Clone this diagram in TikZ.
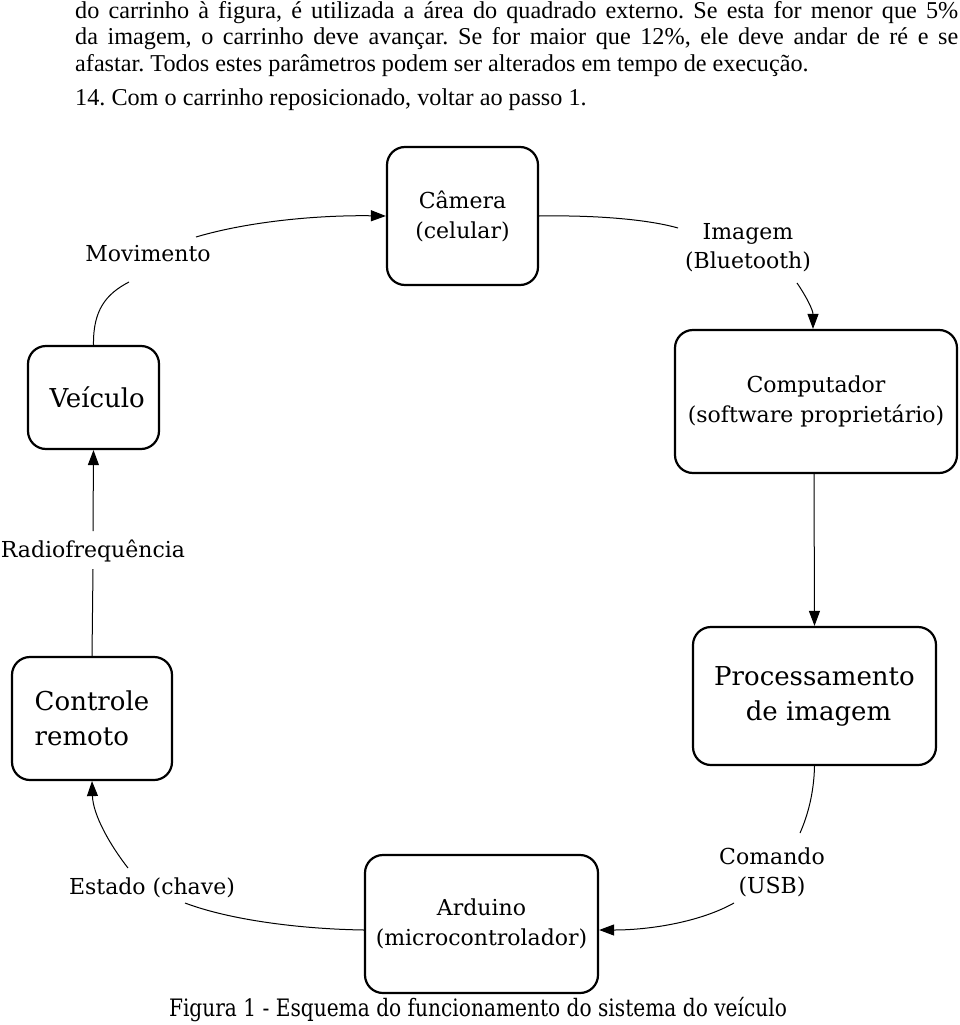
\documentclass[tikz,border=0pt]{standalone}
\usepackage{fontspec}
\setmainfont{DejaVu Serif}
\newfontfamily\timesf{Liberation Serif}
\newfontfamily\capf[FakeStretch=0.84]{DejaVu Serif}
\usetikzlibrary{arrows.meta}
\frenchspacing
\begin{document}
\begin{tikzpicture}[x=1pt,y=-1pt,
  box/.style={draw, line width=2.2pt, rounded corners=18pt, align=center, inner sep=0pt,
    font=\fontsize{22}{30}\selectfont},
  bigbox/.style={box, font=\fontsize{26}{35}\selectfont},
  lab/.style={align=center, inner sep=0pt, font=\fontsize{22}{29}\selectfont},
  conn/.style={line width=1pt},
  arr/.style={conn, -{Triangle[length=15pt,width=11pt]}},
  body/.style={anchor=base west, inner sep=0pt, font=\timesf\fontsize{24.2}{26}\selectfont}]
\useasboundingbox (0,0) rectangle (960,1025);

% running text
\node[body] (t1) at (75,19) {\makebox[883pt][s]{do carrinho à figura, é utilizada a área do quadrado externo. Se esta for menor que 5\%}};
\node[body] (t2) at (75,45) {\makebox[883pt][s]{da imagem, o carrinho deve avançar. Se for maior que 12\%, ele deve andar de ré e se}};
\node[body] (t3) at (75,71) {afastar. Todos estes parâmetros podem ser alterados em tempo de execução.};
\node[body] (t4) at (75,105) {14. Com o carrinho reposicionado, voltar ao passo 1.};

% boxes
\node[box, minimum width=151pt, minimum height=138pt] (cam) at (462.5,216) {Câmera\\(celular)};
\node[box, minimum width=282pt, minimum height=143pt] (comp) at (816,401.5) {Computador\\(software proprietário)};
\node[bigbox, minimum width=131pt, minimum height=103pt, text width=100pt, align=center] (veh) at (93.5,397.5) {\hspace*{6pt}Veículo};
\node[bigbox, minimum width=243pt, minimum height=138pt] (proc) at (814.5,696) {Processamento\\\hspace*{8pt}de imagem};
\node[bigbox, minimum width=160pt, minimum height=123pt, align=left] (ctrl) at (92,718.5) {Controle\\remoto};
\node[box, minimum width=233pt, minimum height=138pt] (ard) at (481.5,924) {Arduino\\(microcontrolador)};

% labels
\node[lab] (mov) at (148,254) {Movimento};
\node[lab] (img) at (748,248) {Imagem\\(Bluetooth)};
\node[lab] (rad) at (93,551) {Radiofrequência};
\node[lab] (cmd) at (772,872) {Comando\\(USB)};
\node[lab] (est) at (152,888) {Estado (chave)};
\node[inner sep=0pt, font=\capf\fontsize{24}{26}\selectfont] (cap) at (478,1010) {Figura 1 - Esquema do funcionamento do sistema do veículo};

% free ends of connectors (gaps around labels)
\coordinate (m1) at (129,282);
\coordinate (m2) at (196,237);
\coordinate (i1) at (678,228);
\coordinate (i2) at (797,283);
\coordinate (c1) at (800,833);
\coordinate (c2) at (734,903);
\coordinate (e1) at (185,903);
\coordinate (e2) at (128,868);
\coordinate (r1) at (93,531);
\coordinate (r2) at (93,569);

% connectors
\draw[conn] (veh.north) .. controls (93,310) and (106,294) .. (m1);
\draw[arr] (m2) .. controls (250,221) and (320,215) .. (cam.west);
\draw[conn] (cam.east) .. controls (600,215) and (650,220) .. (i1);
\draw[arr] (i2) .. controls (806,296) and (813,310) .. ([xshift=-3pt]comp.north);
\draw[arr] ([xshift=-2pt]comp.south) -- (proc.north);
\draw[conn] (proc.south) .. controls (814,792) and (808,815) .. (c1);
\draw[arr] (c2) .. controls (700,922) and (650,930) .. ([yshift=-6pt]ard.east);
\draw[conn] ([yshift=-6pt]ard.west) .. controls (300,929) and (230,920) .. (e1);
\draw[arr] (e2) .. controls (110,845) and (93,815) .. (ctrl.south);
\draw[conn] (ctrl.north) -- (r2);
\draw[arr] (r1) -- (veh.south);
\end{tikzpicture}
\end{document}
